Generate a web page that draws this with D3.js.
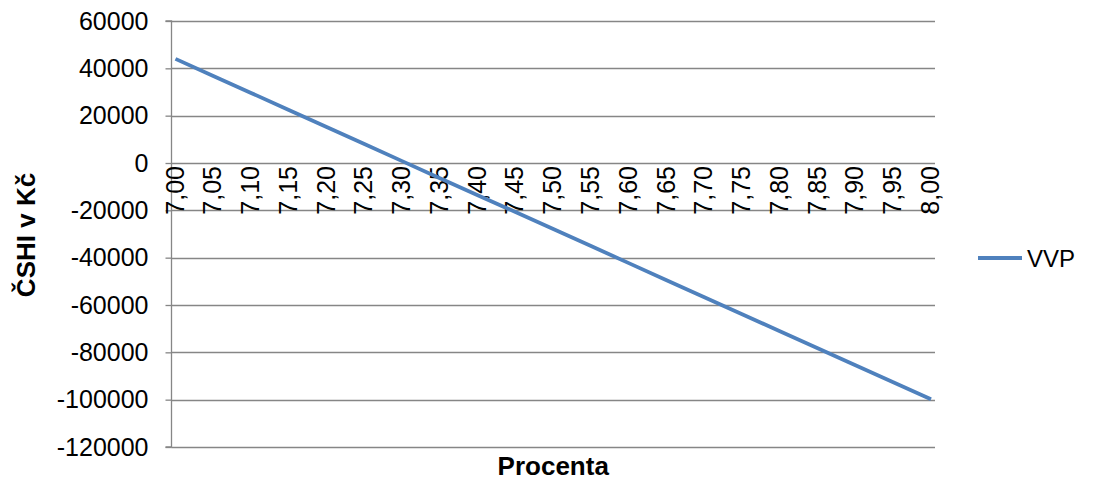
<!DOCTYPE html>
<html>
<head>
<meta charset="utf-8">
<script src="https://cdn.jsdelivr.net/npm/d3@7"></script>
<style>
  html, body { margin: 0; padding: 0; background: #fff; }
  svg text { font-family: Arial, "Liberation Sans", sans-serif; fill: #000; }
</style>
</head>
<body>
<svg id="chart" width="1096" height="484"></svg>
<script>
// Interest rate (percent) categories along the x axis
const categories = ["7,00","7,05","7,10","7,15","7,20","7,25","7,30","7,35","7,40","7,45","7,50",
                    "7,55","7,60","7,65","7,70","7,75","7,80","7,85","7,90","7,95","8,00"];
// Net present value (ČSHI) in Kč for each rate
const vvpValues = [44000, 36800, 29600, 22400, 15200, 8000, 800, -6400, -13600, -20700, -27900,
                   -35100, -42300, -49500, -56700, -63900, -71100, -78300, -85500, -92600, -99800];
// Value axis ticks
const yTicks = [60000, 40000, 20000, 0, -20000, -40000, -60000, -80000, -100000, -120000];
const seriesName = "VVP";
const xTitle = "Procenta";
const yTitle = "ČSHI v Kč";

const svg = d3.select("#chart");
const plot = { left: 171.5, right: 935, top: 21, bottom: 447 };
const gridColor = "#868686";
const lineColor = "#4F81BD";

const y = d3.scaleLinear().domain([-120000, 60000]).range([plot.bottom, plot.top]);
const x = d3.scalePoint().domain(categories).range([175.5, 931]);

// Horizontal gridlines
svg.append("g").selectAll("line").data(yTicks).join("line")
  .attr("x1", plot.left).attr("x2", plot.right)
  .attr("y1", d => Math.round(y(d)) + 0.5).attr("y2", d => Math.round(y(d)) + 0.5)
  .attr("stroke", gridColor).attr("stroke-width", 1.3);

// Value axis with tick labels
const yAxis = d3.axisLeft(y).tickValues(yTicks).tickSize(6).tickPadding(17)
  .tickFormat(d => String(d));
const yAxisG = svg.append("g").attr("transform", `translate(${plot.left},0)`).call(yAxis);
yAxisG.select(".domain").attr("stroke", gridColor).attr("stroke-width", 1.3)
  .attr("d", `M-6,${plot.top}H0V${plot.bottom}H-6`);
yAxisG.selectAll(".tick line").attr("stroke", gridColor).attr("stroke-width", 1.3);
yAxisG.selectAll(".tick text").attr("font-size", 25).attr("fill", "#000")
  .attr("font-family", "Arial, 'Liberation Sans', sans-serif");

// Category labels, rotated, hanging below the zero line
const y0 = y(0);
svg.append("g").selectAll("text").data(categories).join("text")
  .attr("transform", d => `translate(${x(d) - 1},${y0 + 3}) rotate(-90)`)
  .attr("text-anchor", "end")
  .attr("dominant-baseline", "central")
  .attr("font-size", 25)
  .text(d => d);

// Series line
const line = d3.line().x((d, i) => x(categories[i])).y(d => y(d));
svg.append("path").datum(vvpValues)
  .attr("d", line)
  .attr("fill", "none")
  .attr("stroke", lineColor)
  .attr("stroke-width", 3.8)
  .attr("stroke-linejoin", "round");

// Axis titles
svg.append("text")
  .attr("x", (plot.left + plot.right) / 2).attr("y", 475)
  .attr("text-anchor", "middle").attr("font-weight", "bold").attr("font-size", 26)
  .text(xTitle);
svg.append("text")
  .attr("transform", `translate(26,${(plot.top + plot.bottom) / 2 + 1}) rotate(-90)`)
  .attr("text-anchor", "middle").attr("dominant-baseline", "central")
  .attr("font-weight", "bold").attr("font-size", 26)
  .text(yTitle);

// Legend
const legend = svg.append("g").attr("transform", "translate(978,258)");
legend.append("line").attr("x1", 0).attr("x2", 44).attr("y1", 0).attr("y2", 0)
  .attr("stroke", lineColor).attr("stroke-width", 3.8);
legend.append("text").attr("x", 49).attr("y", 0)
  .attr("dominant-baseline", "central").attr("font-size", 24)
  .text(seriesName);
</script>
</body>
</html>
